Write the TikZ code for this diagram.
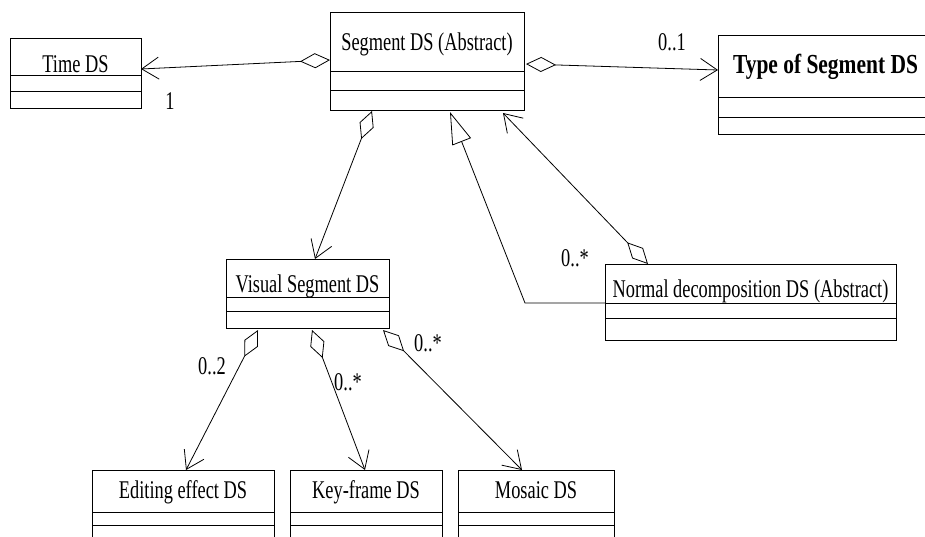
\documentclass[tikz,border=0pt]{standalone}
\usepackage{fontspec}
\setmainfont{Liberation Serif}[FakeStretch=0.72]
\newfontfamily\typefont{Liberation Serif}[FakeStretch=0.78]
\usetikzlibrary{arrows.meta,calc}

% #1 name, #2 top-left corner, #3 width, #4 height,
% #5/#6 offsets of the two compartment lines, #7 baseline offset, #8 title
\newcommand\classbox[8]{%
  \node[box, minimum width=#3pt, minimum height=#4pt, anchor=north west] (#1) at (#2) {};
  \draw[box] ($(#1.north west)+(0,#5)$) -- ($(#1.north east)+(0,#5)$);
  \draw[box] ($(#1.north west)+(0,#6)$) -- ($(#1.north east)+(0,#6)$);
  \node[title] (#1-name) at ($(#1.north)+(0,#7)$) {#8};
}

\begin{document}
\begin{tikzpicture}[x=1pt,y=-1pt,
  box/.style={draw, line width=0.95pt, inner sep=0pt, outer sep=0pt},
  title/.style={anchor=base, inner sep=0pt, font=\fontsize{25.5}{28}\selectfont},
  mult/.style={inner sep=0pt, font=\fontsize{25.5}{28}\selectfont},
  conn/.style={line width=0.8pt},
  agg/.style={conn, {Diamond[open,length=30pt,width=15pt]}-{Straight Barb[length=17pt,width=22pt]}},
  gen/.style={conn, -{Triangle[open,length=32pt,width=20pt]}}]
\useasboundingbox (0,0) rectangle (925,536);

% classes
\classbox{time}{10,38}{131}{70}{37}{53}{34}{Time DS}
\classbox{seg}{330,12}{194}{98}{59}{78}{38}{Segment DS (Abstract)}
\classbox{type}{718,35}{215}{99}{62}{82}{38}{\typefont\fontsize{27.5}{30}\selectfont\bfseries Type of Segment DS}
\classbox{visual}{226,259}{163}{69}{38}{52}{33}{Visual Segment DS}
\classbox{normal}{605,264}{291}{76}{39}{54}{33}{Normal decomposition DS (Abstract)}
\classbox{edit}{92,470}{182}{80}{42}{55}{28}{Editing effect DS}
\classbox{key}{290,470}{152}{80}{42}{55}{28}{Key-frame DS}
\classbox{mosaic}{458,470}{156}{80}{42}{55}{28}{Mosaic DS}

% aggregations
\draw[agg] ($(seg.north west)+(0,48)$) -- ($(time.north east)+(0,31)$);
\draw[agg] ($(seg.north east)+(2,52)$) -- ($(type.north west)+(0,35)$);
\draw[agg] ($(seg.south west)+(42,1)$) -- ($(visual.north west)+(89,0)$);
\draw[agg] ($(normal.north west)+(43,0)$) -- ($(seg.south west)+(173,3)$);
\draw[agg] ($(visual.south west)+(32,2)$) -- ($(edit.north west)+(94,0)$);
\draw[agg] ($(visual.south west)+(86,2)$) -- ($(key.north west)+(75,0)$);
\draw[agg] ($(visual.south west)+(157,2)$) -- ($(mosaic.north west)+(64,0)$);

% generalization
\coordinate (gen-bend) at ($(normal.north west)+(-80,39)$);
\draw[gen] ($(normal.north west)+(0,39)$) -- (gen-bend) -- ($(seg.south west)+(120,2)$);

% multiplicities
\node[mult] (m-time)   at (170,101) {1};
\node[mult] (m-type)   at (672,42)  {0..1};
\node[mult] (m-normal) at (575,258) {0..*};
\node[mult] (m-edit)   at (212,366) {0..2};
\node[mult] (m-key)    at (348,382) {0..*};
\node[mult] (m-mosaic) at (428,343) {0..*};
\end{tikzpicture}
\end{document}
